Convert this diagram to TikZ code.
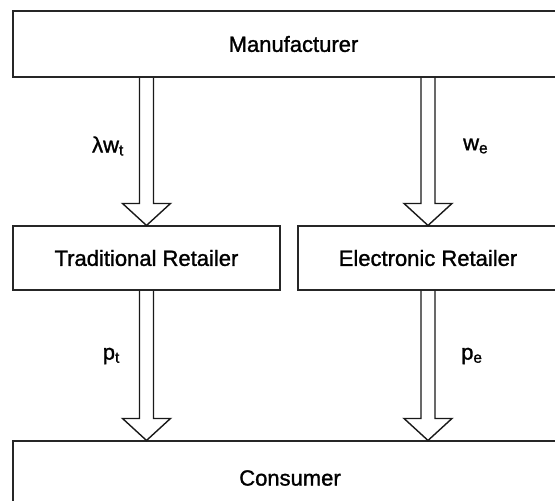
\documentclass[tikz,border=0pt]{standalone}
\usepackage{fontspec}
\setmainfont{Liberation Sans}
\newfontfamily\heavysans[FakeBold=1.3]{Liberation Sans}
\usetikzlibrary{calc}
\tikzset{
  every node/.style={font=\heavysans\fontsize{22}{26}\selectfont},
  party/.style  = {rectangle, draw=black!85, line width=1.1pt, inner sep=0pt,
                   align=center},
  hollow/.style = {draw=black!90, line width=1.4pt, line join=miter},
  flow/.style   = {inner sep=0pt},
}
% open block arrow: shaft from #1 down to the tip at #2
\newcommand{\hollowarrow}[2]{%
  \draw[hollow] ($(#1)+(-7,0)$) -- ($(#2)+(-7,-22)$) -- ($(#2)+(-24,-22)$)
    -- (#2) -- ($(#2)+(24,-22)$) -- ($(#2)+(7,-22)$) -- ($(#1)+(7,0)$);}

\begin{document}
\begin{tikzpicture}[x=1pt, y=-1pt]
  \clip (0,0) rectangle (555,501);

  % ---- the three tiers ----
  \node[party, minimum width=561, minimum height=66] (mfr)  at (293.5,44)  {Manufacturer};
  \node[party, minimum width=267, minimum height=64] (trad) at (146.5,258) {Traditional Retailer};
  \node[party, minimum width=260, minimum height=64] (elec) at (428,258)   {Electronic Retailer};
  \node[party, minimum width=554, minimum height=74] (cons) at (290,478)   {Consumer};

  % ---- arrow start points ----
  \coordinate (mt) at (mfr.south -| trad.north);
  \coordinate (me) at (mfr.south -| elec.north);
  \coordinate (tc) at (trad.south |- cons.north);
  \coordinate (ec) at (elec.south |- cons.north);

  % ---- wholesale and retail flows ----
  \hollowarrow{mt}{trad.north}
  \hollowarrow{me}{elec.north}
  \hollowarrow{trad.south}{tc}
  \hollowarrow{elec.south}{ec}

  % ---- prices ----
  \node[flow, anchor=east] (lw) at (124,146) {λw\textsubscript{t}};
  \node[flow, anchor=west] (we) at (463,146) {w\textsubscript{e}};
  \node[flow, anchor=east] (pt) at (120,356) {p\textsubscript{t}};
  \node[flow, anchor=west] (pe) at (461,356) {p\textsubscript{e}};
\end{tikzpicture}
\end{document}
